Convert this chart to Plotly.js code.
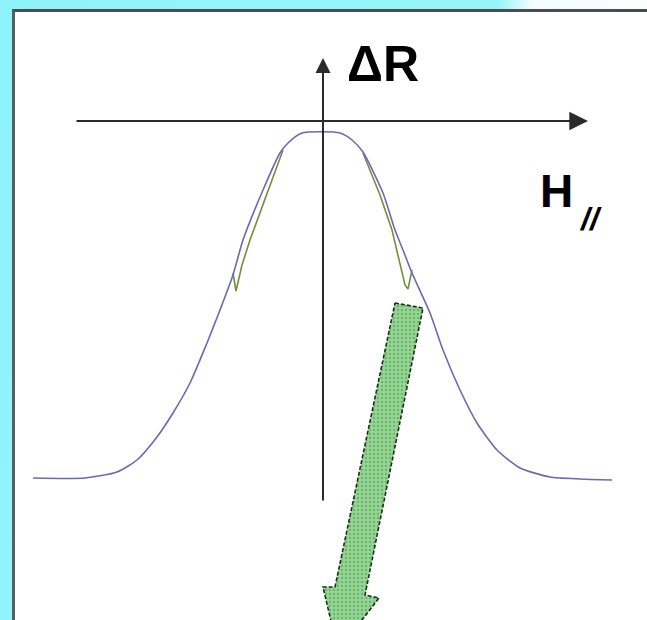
<!DOCTYPE html>
<html>
<head>
<meta charset="utf-8">
<script src="https://cdn.plot.ly/plotly-3.0.1.min.js"></script>
<style>
  html, body { margin:0; padding:0; width:647px; height:620px; overflow:hidden; }
  body { position:relative;
         background: linear-gradient(100deg, #8ff3fb 0%, #98f4fb 66%, #f4fdfe 70.5%, #ffffff 100%); }
  #frame { position:absolute; left:12px; top:9px; width:660px; height:640px; background:#ffffff;
           border-left:3px solid #56605f; border-top:3px solid #484d4d; box-sizing:border-box; }
  #chart { position:absolute; left:0; top:0; width:647px; height:620px; }
</style>
</head>
<body>
<div id="frame"></div>
<div id="chart"></div>
<script>
// Schematic: magnetoresistance ΔR versus in-plane field H// (arbitrary units)
const H_curve = [-5.80,-4.76,-4.12,-3.72,-3.32,-3.00,-2.66,-2.32,-2.06,-1.80,-1.60,-1.20,-0.86,-0.70,-0.42,0.34,0.58,0.80,1.20,1.44,1.60,1.78,2.14,2.40,2.74,3.08,3.48,3.94,4.54,5.14,5.78];
const R_curve = [-7.14,-7.14,-7.02,-6.78,-6.32,-5.84,-5.24,-4.44,-3.78,-3.08,-2.38,-1.38,-0.64,-0.44,-0.24,-0.24,-0.38,-0.62,-1.44,-2.18,-2.58,-3.04,-3.84,-4.58,-5.38,-6.04,-6.58,-6.94,-7.12,-7.16,-7.18];

// inner (green) branches with dips
const H_greenL = [-0.80,-1.10,-1.46,-1.62,-1.74,-1.80];
const R_greenL = [-0.58,-1.38,-2.38,-2.88,-3.40,-3.04];
const H_greenR = [0.80,1.14,1.38,1.64,1.70,1.78];
const R_greenR = [-0.64,-1.48,-2.18,-3.28,-3.36,-2.98];

// big green arrow outline
const H_arrow = [1.44,2.00,0.84,1.12,0.30,0.00,0.24,1.44];
const R_arrow = [-3.64,-3.74,-9.48,-9.54,-10.60,-9.32,-9.32,-3.64];

// axis arrows extents
const H_axis = [-4.96, 5.30];
const R_axis = [-7.62, 1.26];

const labels = ['ΔR', 'H', '//'];

const traces = [
  { x:H_arrow, y:R_arrow, mode:'lines', fill:'toself',
    fillcolor:'#93d493',
    fillpattern:{shape:'.', bgcolor:'#96d696', fgcolor:'#6fb56f', size:4, solidity:0.3},
    line:{color:'#1a2e1a', width:1.6, dash:'4px,2px'}, hoverinfo:'skip' },
  { x:H_greenL, y:R_greenL, mode:'lines', line:{color:'#748f3c', width:1.6}, hoverinfo:'skip' },
  { x:H_greenR, y:R_greenR, mode:'lines', line:{color:'#748f3c', width:1.6}, hoverinfo:'skip' },
  { x:H_curve, y:R_curve, mode:'lines', line:{color:'#6a6ab4', width:1.6, shape:'spline', smoothing:0.6}, hoverinfo:'skip' }
];

const layout = {
  width:647, height:620,
  margin:{l:0, r:0, t:0, b:0},
  paper_bgcolor:'rgba(0,0,0,0)',
  plot_bgcolor:'rgba(0,0,0,0)',
  showlegend:false,
  xaxis:{range:[-6.46, 6.48], visible:false, fixedrange:true},
  yaxis:{range:[-9.98, 2.42], visible:false, fixedrange:true},
  annotations:[
    { xref:'x', yref:'y', axref:'x', ayref:'y', x:H_axis[1], y:0, ax:H_axis[0], ay:0,
      text:'', showarrow:true, arrowhead:2, arrowsize:1.7, arrowwidth:2.2, arrowcolor:'#2a2a2a' },
    { xref:'x', yref:'y', axref:'x', ayref:'y', x:0, y:R_axis[1], ax:0, ay:R_axis[0],
      text:'', showarrow:true, arrowhead:2, arrowsize:1.5, arrowwidth:2, arrowcolor:'#2a2a2a' },
    { xref:'x', yref:'y', x:0.44, y:1.14, xanchor:'left', yanchor:'middle', showarrow:false,
      text:'<b>'+labels[0]+'</b>', font:{family:'Liberation Sans, Arial, sans-serif', size:50, color:'#000'} },
    { xref:'x', yref:'y', x:4.30, y:-1.40, xanchor:'left', yanchor:'middle', showarrow:false,
      text:'<b>'+labels[1]+'</b>', font:{family:'Liberation Sans, Arial, sans-serif', size:46, color:'#000'} },
    { xref:'x', yref:'y', x:5.08, y:-1.96, xanchor:'left', yanchor:'middle', showarrow:false,
      text:'<b><i>'+labels[2]+'</i></b>', font:{family:'Liberation Sans, Arial, sans-serif', size:32, color:'#000'} }
  ]
};

Plotly.newPlot('chart', traces, layout, {staticPlot:true, displayModeBar:false});
</script>
</body>
</html>
